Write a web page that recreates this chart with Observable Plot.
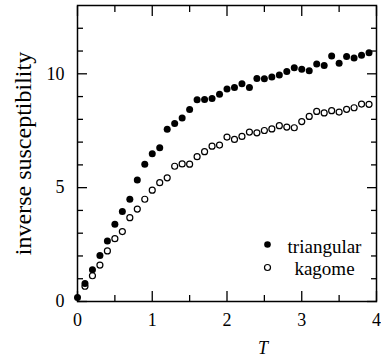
<!DOCTYPE html>
<html>
<head>
<meta charset="utf-8">
<script src="https://cdn.jsdelivr.net/npm/d3@7"></script>
<script src="https://cdn.jsdelivr.net/npm/@observablehq/plot@0.6"></script>
<style>
  html, body { margin: 0; padding: 0; background: #fff; }
  #chart svg, #chart svg text { font-family: "Liberation Serif", "DejaVu Serif", serif !important; }
</style>
</head>
<body>
<div id="chart"></div>
<script>
const T = [0.0,0.1,0.2,0.3,0.4,0.5,0.6,0.7,0.8,0.9,
           1.0,1.1,1.2,1.3,1.4,1.5,1.6,1.7,1.8,1.9,
           2.0,2.1,2.2,2.3,2.4,2.5,2.6,2.7,2.8,2.9,
           3.0,3.1,3.2,3.3,3.4,3.5,3.6,3.7,3.8,3.9];
const triangular = [0.18,0.79,1.39,2.02,2.66,3.39,3.95,4.49,5.34,6.03,
                    6.49,6.75,7.56,7.82,8.06,8.43,8.86,8.87,8.92,9.10,
                    9.33,9.40,9.56,9.40,9.79,9.78,9.86,9.95,10.10,10.27,
                    10.20,10.13,10.43,10.37,10.78,10.46,10.76,10.69,10.82,10.92];
const kagome = [null,0.67,1.13,1.60,2.22,2.76,3.07,3.68,4.06,4.49,
                4.89,5.22,5.43,5.94,6.04,6.03,6.36,6.58,6.82,6.87,
                7.22,7.12,7.25,7.44,7.41,7.51,7.58,7.72,7.66,7.63,
                7.90,8.13,8.35,8.28,8.38,8.32,8.44,8.51,8.67,8.66];
const xMajor = [0,1,2,3,4];
const xMinor = [0.5,1.5,2.5,3.5];
const yMajor = [0,5,10];
const yMinor = [1,2,3,4,6,7,8,9,11,12];
const legendItems = ["triangular","kagome"];
const xLabel = "T";
const yLabel = "inverse susceptibility";

const serif = "Liberation Serif";
const triData = T.map((t,i) => ({T: t, v: triangular[i]}));
const kagData = T.map((t,i) => ({T: t, v: kagome[i]})).filter(d => d.v != null);

const noText = () => "";
const tickMarks = [];
for (const a of ["bottom","top"]) {
  tickMarks.push(Plot.axisX(xMajor, {anchor: a, tickSize: -10, tickFormat: noText, label: null, strokeWidth: 1.3}));
  tickMarks.push(Plot.axisX(xMinor, {anchor: a, tickSize: -6, tickFormat: noText, label: null, strokeWidth: 1.3}));
}
for (const a of ["left","right"]) {
  tickMarks.push(Plot.axisY(yMajor, {anchor: a, tickSize: -10, tickFormat: noText, label: null, strokeWidth: 1.3}));
  tickMarks.push(Plot.axisY(yMinor, {anchor: a, tickSize: -6, tickFormat: noText, label: null, strokeWidth: 1.3}));
}

const chart = Plot.plot({
  width: 381,
  height: 361,
  marginLeft: 77,
  marginRight: 5,
  marginTop: 5,
  marginBottom: 60,
  style: {fontFamily: "'Liberation Serif', serif", color: "black", background: "white"},
  x: {domain: [0, 4]},
  y: {domain: [0, 13]},
  marks: [
    ...tickMarks,
    Plot.axisX(xMajor, {anchor: "bottom", tickSize: 0, tickPadding: 12, fontSize: 18, fontFamily: serif, label: null}),
    Plot.axisY(yMajor, {anchor: "left", tickSize: 0, tickPadding: 13, fontSize: 18, fontFamily: serif, label: null}),
    Plot.text([yLabel], {frameAnchor: "left", rotate: -90, dx: -54, fontSize: 24, fontFamily: serif, lineAnchor: "middle", textAnchor: "middle", fill: "black"}),
    Plot.text([xLabel], {frameAnchor: "bottom", dx: 36, dy: 47, fontSize: 18, fontFamily: serif, fontStyle: "italic", lineAnchor: "middle", fill: "black"}),
    Plot.dot(kagData, {x: "T", y: "v", r: 3, stroke: "black", strokeWidth: 1.2, fill: "white"}),
    Plot.dot(triData, {x: "T", y: "v", r: 3.5, fill: "black", stroke: "none"}),
    Plot.dot([legendItems[0]], {frameAnchor: "bottom-right", dx: -109, dy: -57, r: 3.3, fill: "black", stroke: "none"}),
    Plot.dot([legendItems[1]], {frameAnchor: "bottom-right", dx: -109, dy: -34, r: 3, stroke: "black", strokeWidth: 1.2, fill: "white"}),
    Plot.text([legendItems[0]], {text: d => d, frameAnchor: "bottom-right", dx: -52, dy: -55, fontSize: 19, fontFamily: serif, textAnchor: "middle", lineAnchor: "middle", fill: "black"}),
    Plot.text([legendItems[1]], {text: d => d, frameAnchor: "bottom-right", dx: -52, dy: -33, fontSize: 19, fontFamily: serif, textAnchor: "middle", lineAnchor: "middle", fill: "black"}),
    Plot.frame({stroke: "black", strokeWidth: 1.5})
  ]
});
document.getElementById("chart").appendChild(chart);
</script>
</body>
</html>
